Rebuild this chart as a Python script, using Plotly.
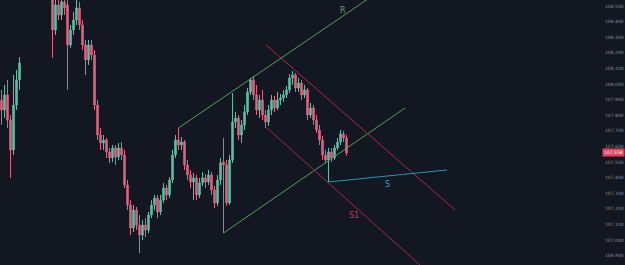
import plotly.graph_objects as go

# ---- candle data (prices) ----
opens = [107.897,107.833,107.930,107.769,107.577,107.865,108.026,
         108.62,108.66,108.70,108.67,108.73,108.71,108.68,108.65,108.62,108.64,
         108.59,108.346,108.506,108.442,108.526,108.506,108.250,108.346,108.410,108.487,
         108.378,108.250,108.154,108.250,108.186,107.865,107.673,107.622,107.641,107.564,
         107.526,107.590,107.532,107.590,107.545,107.353,107.224,107.077,107.192,107.096,
         107.032,107.096,107.064,107.160,107.224,107.269,107.180,107.256,107.333,107.289,
         107.385,107.545,107.641,107.609,107.628,107.481,107.417,107.372,107.398,107.289,
         107.366,107.398,107.372,107.417,107.321,107.237,107.385,107.500,107.481,107.237,
         107.513,107.756,107.782,107.673,107.737,107.821,107.949,108.026,107.930,107.833,
         107.897,107.801,107.756,107.833,107.897,107.846,107.897,107.910,107.930,107.962,
         108.038,108.058,107.974,108.006,107.930,107.962,107.801,107.846,107.769,107.705,
         107.641,107.545,107.513,107.564,107.526,107.590,107.628,107.680,107.654]
highs = [107.962,107.994,108.026,107.801,108.058,108.090,108.173,
         108.68,108.72,108.74,108.75,108.78,108.74,108.72,108.69,108.66,108.66,
         108.62,108.571,108.571,108.603,108.571,108.538,108.378,108.462,108.538,108.526,
         108.410,108.282,108.282,108.282,108.218,107.897,107.718,107.673,107.654,107.590,
         107.609,107.609,107.622,107.628,107.577,107.385,107.256,107.224,107.212,107.160,
         107.128,107.141,107.180,107.256,107.289,107.289,107.289,107.366,107.353,107.404,
         107.577,107.673,107.718,107.660,107.641,107.513,107.449,107.430,107.417,107.398,
         107.436,107.423,107.449,107.436,107.346,107.417,107.526,107.654,107.513,107.545,
         107.942,107.821,107.801,107.769,107.865,107.974,108.038,108.051,107.994,107.930,
         107.962,107.833,107.865,107.930,107.923,107.949,107.936,107.962,107.987,108.064,
         108.083,108.071,108.038,108.026,107.994,107.974,107.878,107.865,107.801,107.737,
         107.667,107.577,107.590,107.590,107.609,107.654,107.705,107.699,107.673]
lows = [107.737,107.782,107.718,107.398,107.545,107.833,107.962,
        108.59,108.63,108.64,108.65,108.69,108.66,108.63,108.60,108.58,108.57,
        108.167,108.314,108.410,108.410,108.442,107.962,108.231,108.314,108.378,108.346,
        108.218,108.058,108.122,108.154,107.833,107.641,107.577,107.577,107.526,107.494,
        107.500,107.481,107.513,107.513,107.333,107.192,107.032,107.051,107.064,106.917,
        107.000,107.019,107.045,107.141,107.192,107.141,107.160,107.237,107.256,107.269,
        107.366,107.526,107.577,107.577,107.449,107.385,107.333,107.256,107.256,107.269,
        107.346,107.333,107.353,107.289,107.205,107.218,107.353,107.045,107.218,107.224,
        107.494,107.718,107.641,107.622,107.705,107.801,107.930,107.897,107.801,107.782,
        107.769,107.718,107.731,107.801,107.821,107.833,107.865,107.885,107.910,107.942,
        107.994,107.949,107.949,107.897,107.910,107.769,107.782,107.737,107.686,107.609,
        107.513,107.494,107.372,107.500,107.513,107.577,107.609,107.628,107.539]
closes = [107.833,107.930,107.769,107.577,107.865,108.026,108.135,
          108.66,108.70,108.67,108.73,108.71,108.68,108.65,108.62,108.64,108.59,
          108.346,108.506,108.442,108.526,108.487,108.250,108.346,108.410,108.487,108.378,
          108.250,108.154,108.250,108.186,107.865,107.673,107.622,107.641,107.564,107.526,
          107.590,107.532,107.590,107.545,107.353,107.224,107.077,107.192,107.096,107.032,
          107.096,107.064,107.160,107.224,107.269,107.180,107.256,107.333,107.289,107.385,
          107.545,107.641,107.609,107.628,107.481,107.417,107.372,107.398,107.289,107.366,
          107.398,107.372,107.417,107.321,107.237,107.385,107.494,107.481,107.237,107.513,
          107.756,107.782,107.673,107.737,107.821,107.949,108.026,107.930,107.833,107.897,
          107.801,107.756,107.833,107.897,107.846,107.897,107.910,107.930,107.962,108.038,
          108.058,107.974,108.006,107.930,107.962,107.801,107.846,107.769,107.705,107.641,
          107.545,107.513,107.564,107.526,107.590,107.628,107.680,107.654,107.558]
bar_index = list(range(len(closes)))

# ---- price scale ----
tick_values = [106.9,107.0,107.1,107.2,107.3,107.4,107.5,107.6,107.7,
               107.8,107.9,108.0,108.1,108.2,108.3,108.4,108.5]
tick_labels = [f"{v:.3f}" for v in tick_values]
y_range = [106.840, 108.538]
x_range = [-0.5, 199.5]
last_price = closes[-1]

# ---- drawn trend lines: (x0, y0, x1, y1) in bar index / price ----
line_R = (59, 107.718, 135, 108.713)
line_channel_low = (74, 107.045, 134.5, 107.846)
line_red_up = (88.2, 108.250, 151.2, 107.192)
line_red_low = (88.5, 107.718, 150, 106.659)
line_S = (109, 107.372, 148.5, 107.449)

labels_text = ["R", "S", "S1"]
labels_x = [113.8, 128.8, 117.5]
labels_y = [108.468, 107.353, 107.160]

BG = "#131722"
UP = "#5cbfa6"
DOWN = "#e0637f"
GREEN_LINE = "#55a352"
RED_LINE = "#a82a47"
CYAN_LINE = "#2398b4"

fig = go.Figure()
fig.add_trace(go.Candlestick(
    x=bar_index, open=opens, high=highs, low=lows, close=closes,
    increasing=dict(line=dict(color=UP, width=1), fillcolor=UP),
    decreasing=dict(line=dict(color=DOWN, width=1), fillcolor=DOWN),
    whiskerwidth=0, showlegend=False, hoverinfo="skip",
))

def add_line(seg, color):
    x0, y0, x1, y1 = seg
    fig.add_shape(type="line", xref="x", yref="y", x0=x0, y0=y0, x1=x1, y1=y1,
                  line=dict(color=color, width=1))

add_line(line_R, GREEN_LINE)
add_line(line_channel_low, GREEN_LINE)
add_line(line_red_up, RED_LINE)
add_line(line_red_low, RED_LINE)
add_line(line_S, CYAN_LINE)

label_colors = ["#5aa85a", "#2aa3c0", "#c23c5a"]
for t, x, y, c in zip(labels_text, labels_x, labels_y, label_colors):
    fig.add_annotation(x=x, y=y, xref="x", yref="y", text=t, showarrow=False,
                       font=dict(family="DejaVu Sans", size=8, color=c))

fig.add_annotation(x=1, y=last_price, xref="paper", yref="y", xanchor="left",
                   xshift=2, text=f"{last_price:.3f}", showarrow=False,
                   bgcolor="#e8405f", borderpad=1,
                   font=dict(family="DejaVu Sans", size=4.5, color="#ffffff"))

fig.update_layout(
    width=625, height=265,
    margin=dict(l=0, r=25, t=0, b=0),
    paper_bgcolor=BG, plot_bgcolor=BG,
    xaxis=dict(range=x_range, visible=False, rangeslider=dict(visible=False),
               showgrid=False, fixedrange=True),
    yaxis=dict(range=y_range, side="right", tickvals=tick_values, ticktext=tick_labels,
               showgrid=False, zeroline=False, ticks="", ticklabelstandoff=4,
               tickfont=dict(family="DejaVu Sans", size=4.5, color="#8a8f9c"),
               fixedrange=True),
)

fig.write_html("out.html")
